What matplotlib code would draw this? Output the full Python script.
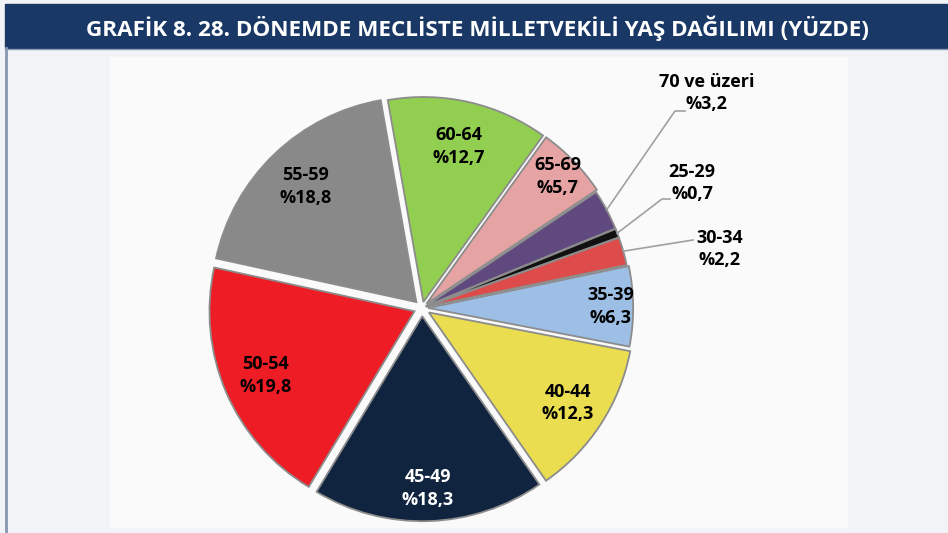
import matplotlib.pyplot as plt
from matplotlib.patches import Rectangle
import numpy as np

# data, clockwise from the top
groups = ['60-64', '65-69', '70 ve üzeri', '25-29', '30-34', '35-39',
          '40-44', '45-49', '50-54', '55-59']
shares = [12.7, 5.7, 3.2, 0.7, 2.2, 6.3, 12.3, 18.3, 19.8, 18.8]
colors = ['#92cf50', '#e6a3a3', '#60497f', '#111111', '#dd4b4b', '#9dbfe6',
          '#ebdd50', '#10233f', '#ee1c24', '#898989']
explode = [0.03, 0.03, 0.02, 0.02, 0.02, 0.03, 0.04, 0.04, 0.04, 0.04]
label_r = [0.78, 0.89, 0, 0, 0, 0.89, 0.81, 0.84, 0.79, 0.78]
outside = {'70 ve üzeri': (707, 93), '25-29': (692, 183), '30-34': (720, 249)}
elbow = {'70 ve üzeri': [(675, 111), (685, 111)],
         '25-29': [(662, 199), (670, 199)],
         '30-34': [(693, 240)]}

title = 'GRAFİK 8. 28. DÖNEMDE MECLİSTE MİLLETVEKİLİ YAŞ DAĞILIMI (YÜZDE)'

W, H = 948, 533
CX, CY, R = 422, 308, 205


def px(x, y):
    # image pixel -> data coords (pie radius = 1)
    return (x - CX) / R, (CY - y) / R


fig = plt.figure(figsize=(W / 100, H / 100), dpi=100, facecolor='#f2f3f7')
ax = fig.add_axes([0, 0, 1, 1])

wedges, _ = ax.pie(shares, colors=colors, explode=explode, startangle=100,
                   counterclock=False, radius=1,
                   wedgeprops=dict(edgecolor='#8c8c8c', linewidth=1.3))
for w in wedges:
    w.set_zorder(3)
ax.set_xlim(px(0, 0)[0], px(W, 0)[0])
ax.set_ylim(px(0, H)[1], px(0, 0)[1])
ax.set_aspect('equal')
ax.axis('off')

# background panel and title bar
x0, y0 = px(110, 527)
x1, y1 = px(847, 57)
ax.add_patch(Rectangle((x0, y0), x1 - x0, y1 - y0, color='#fafafb', zorder=0))
bx0, by0 = px(5, 48)
bx1, by1 = px(W, 4)
ax.add_patch(Rectangle((bx0, by0), bx1 - bx0, by1 - by0, color='#1a3866', zorder=5))
ax.plot(*zip(px(6, 48), px(6, H)), color='#8797b0', lw=2, zorder=5)
ax.plot(*zip(px(5, 48.5), px(W, 48.5)), color='#8797b0', lw=1, zorder=5)
tx, ty = px(477, 28)
ax.text(tx, ty, title, color='white', fontsize=16.2, fontweight='bold',
        family='Open Sans', ha='center', va='center', zorder=6)

font = dict(family='Open Sans', fontweight='bold', fontsize=13,
            ha='center', va='center', linespacing=1.35)

for w, g, s, lr in zip(wedges, groups, shares, label_r):
    th = np.deg2rad((w.theta1 + w.theta2) / 2)
    cx, cy = w.center
    txt = f'{g}\n%{str(s).replace(".", ",")}'
    if g in outside:
        ex, ey = cx + np.cos(th), cy + np.sin(th)
        pts = [(ex, ey)] + [px(*p) for p in elbow[g]]
        xs, ys = zip(*pts)
        ax.plot(xs, ys, color='#a0a0a0', lw=1.2, zorder=4)
        lx, ly = px(*outside[g])
        ax.text(lx, ly, txt, color='black', zorder=6, **font)
    else:
        c = 'white' if g == '45-49' else 'black'
        ax.text(cx + lr * np.cos(th), cy + lr * np.sin(th), txt, color=c,
                zorder=6, **font)

fig.savefig('out.png', dpi=100, facecolor=fig.get_facecolor())
